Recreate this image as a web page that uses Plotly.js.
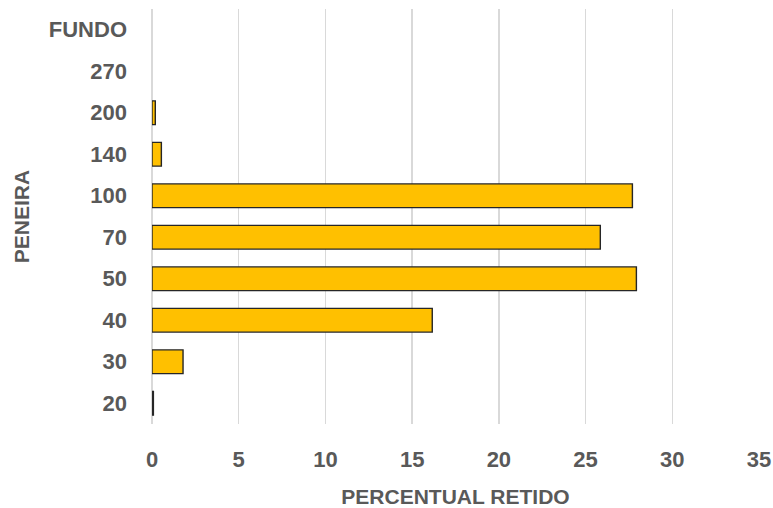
<!DOCTYPE html>
<html>
<head>
<meta charset="utf-8">
<script src="https://cdn.plot.ly/plotly-3.0.1.min.js"></script>
<style>html,body{margin:0;padding:0;background:#fff;}#chart{width:773px;height:508px;}</style>
</head>
<body>
<div id="chart"></div>
<script>
const peneiras = ["20", "30", "40", "50", "70", "100", "140", "200", "270", "FUNDO"];
const percentualRetido = [0.08, 1.79, 16.16, 27.93, 25.85, 27.70, 0.54, 0.19, 0, 0];
const xTicks = [0, 5, 10, 15, 20, 25, 30, 35];

const fontFam = "Liberation Sans, Arial, sans-serif";
const gray = "#595959";

Plotly.newPlot("chart", [{
  type: "bar",
  orientation: "h",
  y: peneiras,
  x: percentualRetido,
  marker: {
    color: "#FFC000",
    line: {color: "#262626", width: percentualRetido.map(v => v > 0 ? 1.4 : 0)}
  },
  hoverinfo: "x+y"
}], {
  width: 773, height: 508,
  margin: {l: 152, r: 14, t: 9, b: 84},
  paper_bgcolor: "#fff", plot_bgcolor: "#fff",
  bargap: 0.43,
  showlegend: false,
  xaxis: {
    range: [0, 35],
    tickvals: xTicks,
    ticktext: xTicks.map(String),
    showgrid: true, gridcolor: "#D9D9D9", gridwidth: 1.3,
    zeroline: true, zerolinecolor: "#D9D9D9", zerolinewidth: 1.3,
    showline: false, ticks: "",
    ticklabelstandoff: 20,
    tickfont: {family: fontFam, size: 22, color: gray, weight: "bold"},
    title: {text: "<b>PERCENTUAL RETIDO</b>", font: {family: fontFam, size: 21, color: gray}, standoff: 18}
  },
  yaxis: {
    type: "category",
    categoryorder: "array",
    categoryarray: peneiras,
    showgrid: false, zeroline: false, showline: false, ticks: "",
    ticklabelstandoff: 24,
    tickfont: {family: fontFam, size: 22, color: gray, weight: "bold"},
    title: {text: "<b>PENEIRA</b>", font: {family: fontFam, size: 21, color: gray}, standoff: 13}
  }
}, {staticPlot: true});
</script>
</body>
</html>
